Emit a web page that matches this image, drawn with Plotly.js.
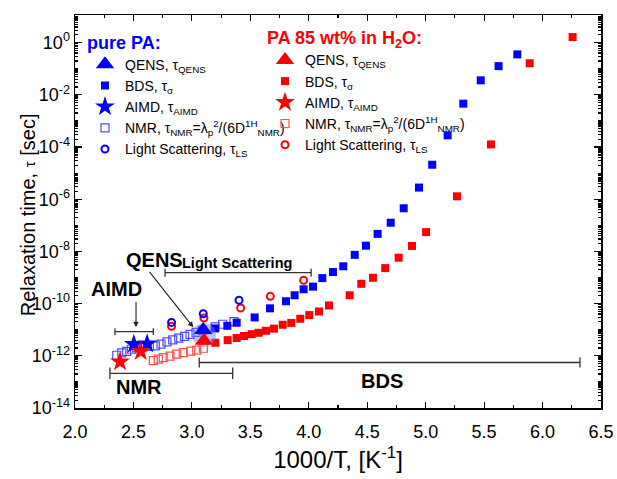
<!DOCTYPE html>
<html><head><meta charset="utf-8">
<script src="https://cdn.plot.ly/plotly-3.0.1.min.js"></script>
<style>body{margin:0;background:#fff}#chart{width:617px;height:479px}</style>
</head><body><div id="chart"></div>
<script>
// ---- data (x = 1000/T [1/K], y = tau [s]) ----
const paBDS_x = [3.198,3.303,3.383,3.537,3.668,3.805,3.879,3.956,4.036,4.116,4.207,4.295,4.393,4.489,4.589,4.701,4.812,4.943,5.056,5.188,5.322,5.471,5.624,5.784];
const paBDS_y = [1.12e-11,1.41e-11,1.86e-11,2.95e-11,6.6e-11,1.23e-10,2.09e-10,3.55e-10,4.47e-10,9.5e-10,1.62e-9,2.69e-9,7.4e-9,1.66e-8,4.7e-8,1.26e-7,4.5e-7,2.8e-6,2.1e-5,2.8e-4,4.6e-3,3.6e-2,0.126,0.355];

const h2oBDS_x = [3.200,3.306,3.383,3.446,3.512,3.571,3.634,3.702,3.777,3.850,3.927,4.004,4.087,4.173,4.350,4.449,4.549,4.654,4.769,4.883,5.004,5.268,5.559,5.890,6.257];
const h2oBDS_y = [3.16e-12,3.98e-12,4.79e-12,5.75e-12,6.76e-12,7.6e-12,9.1e-12,1.10e-11,1.55e-11,1.82e-11,2.63e-11,3.63e-11,5.0e-11,8.5e-11,2.09e-10,5.75e-10,9.8e-10,2.29e-9,5.75e-9,1.62e-8,5.5e-8,1.29e-6,1.26e-4,0.162,1.64];

const paNMR_x = [2.357,2.400,2.442,2.482,2.528,2.579,2.636,2.687,2.736,2.787,2.836,2.887,2.938,2.984,3.035,3.090,3.198,3.263,3.360];
const paNMR_y = [1.05e-12,1.29e-12,1.48e-12,1.78e-12,2.0e-12,2.19e-12,2.29e-12,2.4e-12,2.82e-12,3.39e-12,4.07e-12,4.79e-12,5.6e-12,6.6e-12,7.9e-12,9.5e-12,1.29e-11,1.62e-11,2.04e-11];

const h2oNMR_x = [2.670,2.713,2.755,2.813,2.870,2.926,2.990,3.041,3.098];
const h2oNMR_y = [6.5e-13,7.4e-13,8.5e-13,9.8e-13,1.15e-12,1.32e-12,1.51e-12,1.66e-12,1.95e-12];

const paAIMD_x = [2.503,2.617];
const paAIMD_y = [2.8e-12,2.9e-12];
const h2oAIMD_x = [2.385,2.562];
const h2oAIMD_y = [5.9e-13,1.45e-12];

const paQENS_x = [3.097];
const paQENS_y = [9.8e-12];
const h2oQENS_x = [3.103];
const h2oQENS_y = [3.8e-12];
const qensSpread_x = [3.105];
const qensSpread_y = [6.3e-12];

const paLS_x = [2.826,3.097,3.403];
const paLS_y = [1.9e-11,4.1e-11,1.35e-10];
const h2oLS_x = [2.826,3.103,3.417,3.671,3.956];
const h2oLS_y = [1.35e-11,2.8e-11,6.8e-11,1.9e-10,7.8e-10];

const yTickExp = [0,-2,-4,-6,-8,-10,-12,-14];
const xTickVals = [2.0,2.5,3.0,3.5,4.0,4.5,5.0,5.5,6.0,6.5];

// ---- styling ----
const BLUE = '#0000ff', RED = '#ff0000';
const BLUE_L = '#4d4dff', RED_L = '#ff5050';

function tr(x, y, name, legend, rank, marker) {
  return {x, y, name, type:'scatter', mode:'markers', legend, legendrank:rank, marker, hoverinfo:'x+y'};
}

const traces = [
  tr(paNMR_x, paNMR_y, 'NMR, τ<sub>NMR</sub>=λ<sub>p</sub><sup>2</sup>/(6D<sup>1H</sup><sub>NMR</sub>)', 'legend', 4,
     {symbol:'square-open', size:8, color:BLUE_L, line:{width:1.2, color:BLUE_L}}),
  tr(h2oNMR_x, h2oNMR_y, 'NMR, τ<sub>NMR</sub>=λ<sub>p</sub><sup>2</sup>/(6D<sup>1H</sup><sub>NMR</sub>)', 'legend2', 4,
     {symbol:'square-open', size:8, color:RED_L, line:{width:1.2, color:RED_L}}),
  tr(h2oLS_x, h2oLS_y, 'Light Scattering, τ<sub>LS</sub>', 'legend2', 5,
     {symbol:'circle-open', size:7, color:RED, line:{width:2, color:RED}}),
  tr(paLS_x, paLS_y, 'Light Scattering, τ<sub>LS</sub>', 'legend', 5,
     {symbol:'circle-open', size:7, color:BLUE, line:{width:2, color:BLUE}}),
  tr(paBDS_x, paBDS_y, 'BDS, τ<sub>σ</sub>', 'legend', 2,
     {symbol:'square', size:8, color:BLUE}),
  tr(h2oBDS_x, h2oBDS_y, 'BDS, τ<sub>σ</sub>', 'legend2', 2,
     {symbol:'square', size:8, color:RED}),
  {x:qensSpread_x, y:qensSpread_y, type:'scatter', mode:'markers', showlegend:false, hoverinfo:'skip',
   marker:{symbol:'circle', size:24, color:'rgba(120,120,230,0.45)'}},
  tr(paAIMD_x, paAIMD_y, 'AIMD, τ<sub>AIMD</sub>', 'legend', 3,
     {symbol:'star', size:15, color:BLUE}),
  tr(h2oAIMD_x, h2oAIMD_y, 'AIMD, τ<sub>AIMD</sub>', 'legend2', 3,
     {symbol:'star', size:15, color:RED}),
  tr(paQENS_x, paQENS_y, 'QENS, τ<sub>QENS</sub>', 'legend', 1,
     {symbol:'triangle-up', size:16, color:BLUE}),
  tr(h2oQENS_x, h2oQENS_y, 'QENS, τ<sub>QENS</sub>', 'legend2', 1,
     {symbol:'triangle-up', size:16, color:RED})
];

// minor tick positions for log y axis
const yMinor = [];
for (let d = -15; d <= 1; d++) for (let k = 1; k <= 9; k++) {
  if (k === 1 && yTickExp.indexOf(d) >= 0) continue;
  yMinor.push(k * Math.pow(10, d));
}

function bracket(x0, x1, yl, half) {
  const c = {color:'#333', width:1.3};
  return [
    {type:'line', xref:'x', yref:'y', x0, x1, y0:Math.pow(10,yl), y1:Math.pow(10,yl), line:c},
    {type:'line', xref:'x', yref:'y', x0, x1:x0, y0:Math.pow(10,yl-half), y1:Math.pow(10,yl+half), line:c},
    {type:'line', xref:'x', yref:'y', x0:x1, x1, y0:Math.pow(10,yl-half), y1:Math.pow(10,yl+half), line:c}
  ];
}
const shapes = [].concat(
  bracket(2.77, 4.02, -8.816, 0.15),
  bracket(2.342, 2.670, -11.077, 0.13),
  bracket(2.299, 3.349, -12.670, 0.22),
  bracket(3.063, 6.32, -12.257, 0.19)
);

const F = 'Arial, "Liberation Sans", sans-serif';
const bold20 = {family:F, size:20, color:'#000', weight:'bold'};
const annotations = [
  {x:2.684, y:-8.33, text:'<b>QENS</b>', showarrow:false, font:bold20},
  {x:2.359, y:-9.44, text:'<b>AIMD</b>', showarrow:false, font:bold20},
  {x:2.547, y:-13.195, text:'<b>NMR</b>', showarrow:false, font:bold20},
  {x:4.626, y:-12.966, text:'<b>BDS</b>', showarrow:false, font:bold20},
  {x:3.386, y:-8.433, text:'<b>Light Scattering</b>', showarrow:false, font:{family:F, size:14.5, color:'#000'}},
  {x:3.012, y:-10.908, text:'', showarrow:true, ax:-45, ay:-57, arrowhead:2, arrowsize:1, arrowwidth:1.1, arrowcolor:'#222'},
  {x:2.522, y:-10.908, text:'', showarrow:true, ax:0, ay:-27, arrowhead:2, arrowsize:1, arrowwidth:1.1, arrowcolor:'#222'},
  {xref:'paper', yref:'paper', x:-0.089, y:0.491, xanchor:'center', yanchor:'middle', textangle:-90, showarrow:false,
   text:'Relaxation time, <span style="font-size:15px">τ</span> [sec]', font:{family:F, size:20, color:'#000'}}
];

const layout = {
  width:617, height:479,
  margin:{l:75, r:16, t:15, b:71},
  paper_bgcolor:'#fff', plot_bgcolor:'#fff',
  font:{family:F, size:16, color:'#000'},
  showlegend:true,
  xaxis:{
    range:[2,6.5], tickmode:'array', tickvals:xTickVals, ticktext:xTickVals.map(v=>v.toFixed(1)),
    ticks:'inside', ticklen:6, tickwidth:1.2, tickcolor:'#000',
    minor:{tickmode:'linear', tick0:2, dtick:0.25, ticks:'inside', ticklen:3, tickcolor:'#000'},
    showline:true, linecolor:'#000', linewidth:1.5, mirror:'ticks', showgrid:false, zeroline:false,
    tickfont:{family:F, size:18}, ticklabelstandoff:7,
    title:{text:'1000/T, [K<sup>-1</sup>]', font:{family:F, size:24}, standoff:10}
  },
  yaxis:{
    type:'log', range:[-14, 1.06], tickmode:'array',
    tickvals:yTickExp.map(e=>Math.pow(10,e)),
    ticktext:yTickExp.map(e=>'10<sup>'+e+'</sup>'),
    ticks:'inside', ticklen:7, tickwidth:1.2, tickcolor:'#000',
    minor:{tickmode:'array', tickvals:yMinor, ticks:'inside', ticklen:3, tickcolor:'#000'},
    showline:true, linecolor:'#000', linewidth:1.5, mirror:'ticks', showgrid:false, zeroline:false,
    tickfont:{family:F, size:18}
  },
  legend:{
    x:(85-75)/526, xanchor:'left', y:0.974, yanchor:'top', bgcolor:'rgba(0,0,0,0)',
    font:{family:F, size:14, color:'#000'},
    title:{text:'<b>pure PA:</b>', font:{family:F, size:18, color:BLUE}},
    itemclick:false
  },
  legend2:{
    x:(265-75)/526, xanchor:'left', y:0.985, yanchor:'top', bgcolor:'rgba(0,0,0,0)',
    font:{family:F, size:14, color:'#000'},
    title:{text:'<b>PA 85 wt% in H<sub>2</sub>O:</b>', font:{family:F, size:18, color:RED}},
    itemclick:false
  },
  shapes, annotations
};

Plotly.newPlot('chart', traces, layout, {displayModeBar:false, staticPlot:true});
</script></body></html>
